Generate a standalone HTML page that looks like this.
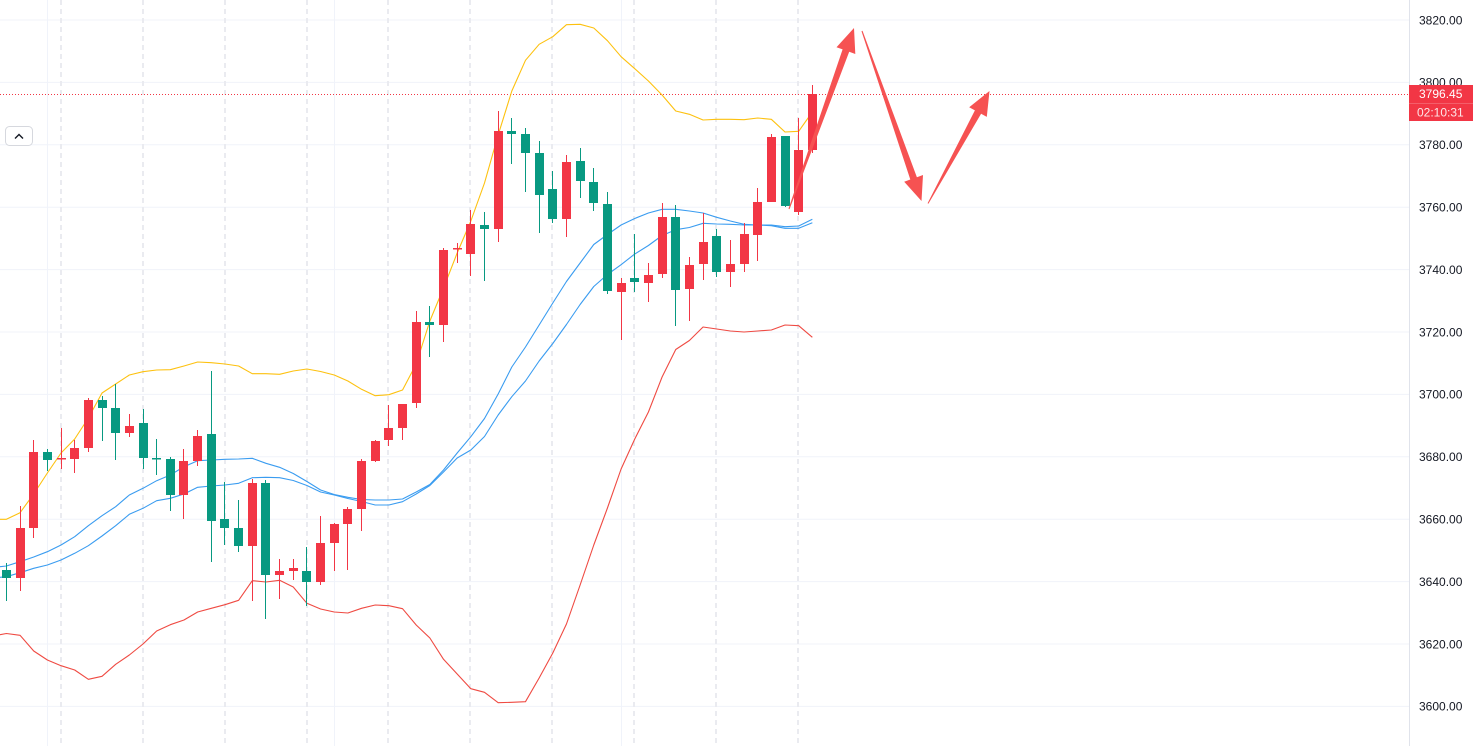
<!DOCTYPE html>
<html><head><meta charset="utf-8"><style>
html,body{margin:0;padding:0;background:#fff;}
svg{display:block;}
text{font-family:"Liberation Sans",sans-serif;font-size:12px;}
</style></head><body>
<svg width="1473" height="746" viewBox="0 0 1473 746" xmlns="http://www.w3.org/2000/svg">
<rect width="1473" height="746" fill="#ffffff"/>
<!-- horizontal grid -->
<g stroke="#f0f3fa" stroke-width="1">
<line x1="0" y1="20" x2="1409" y2="20"/>
<line x1="0" y1="82.4" x2="1409" y2="82.4"/>
<line x1="0" y1="144.8" x2="1409" y2="144.8"/>
<line x1="0" y1="207.2" x2="1409" y2="207.2"/>
<line x1="0" y1="269.6" x2="1409" y2="269.6"/>
<line x1="0" y1="332" x2="1409" y2="332"/>
<line x1="0" y1="394.4" x2="1409" y2="394.4"/>
<line x1="0" y1="456.8" x2="1409" y2="456.8"/>
<line x1="0" y1="519.2" x2="1409" y2="519.2"/>
<line x1="0" y1="581.6" x2="1409" y2="581.6"/>
<line x1="0" y1="644" x2="1409" y2="644"/>
<line x1="0" y1="706.4" x2="1409" y2="706.4"/>
<line x1="47.5" y1="0" x2="47.5" y2="746"/>
<line x1="334.5" y1="0" x2="334.5" y2="746"/>
<line x1="621.5" y1="0" x2="621.5" y2="746"/>
</g>
<!-- dashed verticals -->
<g stroke="#eaebf0" stroke-width="2" stroke-dasharray="5,4">
<line x1="61" y1="0" x2="61" y2="746"/>
<line x1="143" y1="0" x2="143" y2="746"/>
<line x1="225" y1="0" x2="225" y2="746"/>
<line x1="307" y1="0" x2="307" y2="746"/>
<line x1="388" y1="0" x2="388" y2="746"/>
<line x1="470" y1="0" x2="470" y2="746"/>
<line x1="552" y1="0" x2="552" y2="746"/>
<line x1="634" y1="0" x2="634" y2="746"/>
<line x1="716" y1="0" x2="716" y2="746"/>
<line x1="798" y1="0" x2="798" y2="746"/>
</g>
<!-- price line -->
<line x1="0" y1="94.5" x2="1409" y2="94.5" stroke="#f23645" stroke-width="1" stroke-dasharray="1,2"/>
<!-- bands -->
<g fill="none" stroke-width="1.1" stroke-linejoin="round">
<polyline stroke="#fdc10f" points="0,519.3 6.4,519.3 20.06,512.7 33.72,494 47.38,473 61.04,453 74.7,439 88.36,418 102.02,393 115.68,384 129.34,375 143,371.7 156.66,370 170.32,369.7 183.98,366 197.64,362 211.3,362.7 224.96,364 238.62,366 252.28,373.7 265.94,373.7 279.6,374.3 293.26,371 306.92,369 320.58,371.5 334.24,375 347.9,381 361.56,389.3 375.22,395.7 388.88,394.7 402.54,390 416.2,364 429.86,321 443.52,288 457.18,253 470.84,221 484.5,183 498.16,135 511.82,91 525.48,60.3 539.14,44.3 552.8,36.7 566.46,24.7 580.12,24.3 593.78,28 607.44,40.7 621.1,56.7 634.76,68.7 648.42,81 662.08,95 675.74,111 689.4,114.3 703.06,120 716.72,119.3 730.38,119.3 744.04,119.7 757.7,118 771.36,119.3 785.02,132 798.68,131.3 812.34,112"/>
<polyline stroke="#ef4a42" points="0,634.7 6.4,633.5 20.06,635.3 33.72,651 47.38,660 61.04,665.7 74.7,670 88.36,679.3 102.02,676.3 115.68,664.3 129.34,655 143,644 156.66,631 170.32,624.7 183.98,620 197.64,612 211.3,608.3 224.96,604.7 238.62,600.3 252.28,580.7 265.94,582 279.6,580.3 293.26,587 306.92,603.3 320.58,609 334.24,612 347.9,613 361.56,608.3 375.22,605 388.88,605.7 402.54,608.7 416.2,625 429.86,638 443.52,659.3 457.18,674 470.84,688.7 484.5,692.3 498.16,702.7 511.82,702.3 525.48,701.7 539.14,678 552.8,653 566.46,624 580.12,585 593.78,545 607.44,508 621.1,469 634.76,439 648.42,412 662.08,377 675.74,349.5 689.4,340.5 703.06,327 716.72,329 730.38,331 744.04,332 757.7,331 771.36,330 785.02,325 798.68,325.7 812.34,337.3"/>
<polyline stroke="#3a9cf0" points="0,566.7 6.4,566 20.06,561.7 33.72,557 47.38,551.7 61.04,545 74.7,536.7 88.36,525.7 102.02,515.7 115.68,506.7 129.34,495 143,488.3 156.66,480.7 170.32,475 183.98,466.7 197.64,460.7 211.3,460 224.96,459.3 238.62,459 252.28,458.3 265.94,463.3 279.6,467.3 293.26,473.5 306.92,481.5 320.58,490 334.24,494.5 347.9,497.3 361.56,499.5 375.22,500 388.88,500 402.54,499 416.2,492 429.86,484.5 443.52,470 457.18,453 470.84,436.7 484.5,418.5 498.16,394 511.82,367 525.48,347 539.14,325 552.8,303 566.46,281.5 580.12,263 593.78,244.5 607.44,234.5 621.1,225 634.76,218.5 648.42,213 662.08,209.3 675.74,209.3 689.4,211 703.06,213 716.72,217.3 730.38,221 744.04,224.3 757.7,225 771.36,225.7 785.02,228.3 798.68,228.3 812.34,222.7"/>
<polyline stroke="#3a9cf0" points="0,577.3 6.4,576.7 20.06,572.7 33.72,568.3 47.38,565 61.04,560 74.7,553.3 88.36,545.7 102.02,536 115.68,525.7 129.34,514.3 143,508.3 156.66,500.7 170.32,498.3 183.98,494 197.64,487.3 211.3,486 224.96,485 238.62,483.3 252.28,477.7 265.94,477.3 279.6,477.7 293.26,480.5 306.92,485.5 320.58,492 334.24,495 347.9,498.5 361.56,501.5 375.22,505 388.88,505 402.54,501.7 416.2,494 429.86,485.5 443.52,472 457.18,458 470.84,450 484.5,436.5 498.16,415 511.82,396.7 525.48,381 539.14,361 552.8,343.5 566.46,324.5 580.12,304.5 593.78,286.5 607.44,274.5 621.1,264.7 634.76,254 648.42,245.5 662.08,235.5 675.74,229.7 689.4,227.5 703.06,223.3 716.72,224 730.38,224.3 744.04,225 757.7,225 771.36,225 785.02,226.7 798.68,226 812.34,219.3"/>
</g>
<!-- green candles -->
<g fill="#089981" stroke="#089981" stroke-width="1">
<line x1="6.5" y1="563" x2="6.5" y2="601"/><rect x="2" y="570" width="9" height="8" stroke="none"/>
<line x1="47.5" y1="449" x2="47.5" y2="471"/><rect x="43" y="452" width="9" height="8" stroke="none"/>
<line x1="102.5" y1="396" x2="102.5" y2="441"/><rect x="98" y="400" width="9" height="8" stroke="none"/>
<line x1="115.5" y1="384" x2="115.5" y2="460"/><rect x="111" y="408" width="9" height="25" stroke="none"/>
<line x1="143.5" y1="409" x2="143.5" y2="469"/><rect x="139" y="423" width="9" height="35" stroke="none"/>
<line x1="156.5" y1="439" x2="156.5" y2="475"/><rect x="152" y="458" width="9" height="1.5" stroke="none"/>
<line x1="170.5" y1="457" x2="170.5" y2="511"/><rect x="166" y="459" width="9" height="36" stroke="none"/>
<line x1="211.5" y1="371" x2="211.5" y2="562"/><rect x="207" y="434" width="9" height="87" stroke="none"/>
<line x1="224.5" y1="482" x2="224.5" y2="545"/><rect x="220" y="519" width="9" height="9" stroke="none"/>
<line x1="238.5" y1="500" x2="238.5" y2="552"/><rect x="234" y="528" width="9" height="18" stroke="none"/>
<line x1="265.5" y1="480" x2="265.5" y2="619"/><rect x="261" y="483" width="9" height="92" stroke="none"/>
<line x1="306.5" y1="547" x2="306.5" y2="606"/><rect x="302" y="571" width="9" height="11" stroke="none"/>
<line x1="429.5" y1="306" x2="429.5" y2="357"/><rect x="425" y="322" width="9" height="3" stroke="none"/>
<line x1="484.5" y1="212" x2="484.5" y2="281"/><rect x="480" y="225" width="9" height="4" stroke="none"/>
<line x1="511.5" y1="118" x2="511.5" y2="164"/><rect x="507" y="131" width="9" height="3" stroke="none"/>
<line x1="525.5" y1="128" x2="525.5" y2="192"/><rect x="521" y="134" width="9" height="19" stroke="none"/>
<line x1="539.5" y1="141" x2="539.5" y2="233"/><rect x="535" y="153" width="9" height="42" stroke="none"/>
<line x1="552.5" y1="171" x2="552.5" y2="223"/><rect x="548" y="189" width="9" height="30" stroke="none"/>
<line x1="580.5" y1="148" x2="580.5" y2="198"/><rect x="576" y="161" width="9" height="20" stroke="none"/>
<line x1="593.5" y1="168" x2="593.5" y2="211"/><rect x="589" y="182" width="9" height="21" stroke="none"/>
<line x1="607.5" y1="192" x2="607.5" y2="294"/><rect x="603" y="204" width="9" height="87" stroke="none"/>
<line x1="634.5" y1="234" x2="634.5" y2="292"/><rect x="630" y="278" width="9" height="4" stroke="none"/>
<line x1="675.5" y1="205" x2="675.5" y2="326"/><rect x="671" y="217" width="9" height="73" stroke="none"/>
<line x1="716.5" y1="229" x2="716.5" y2="277"/><rect x="712" y="236" width="9" height="36" stroke="none"/>
<line x1="785.5" y1="136" x2="785.5" y2="207"/><rect x="781" y="136" width="9" height="70" stroke="none"/>
</g>
<!-- red candles -->
<g fill="#f23645" stroke="#f23645" stroke-width="1">
<line x1="20.5" y1="506" x2="20.5" y2="591"/><rect x="16" y="528" width="9" height="50" stroke="none"/>
<line x1="33.5" y1="440" x2="33.5" y2="538"/><rect x="29" y="452" width="9" height="76" stroke="none"/>
<line x1="61.5" y1="428" x2="61.5" y2="469"/><rect x="57" y="458" width="9" height="1.5" stroke="none"/>
<line x1="74.5" y1="440" x2="74.5" y2="473"/><rect x="70" y="448" width="9" height="11" stroke="none"/>
<line x1="88.5" y1="398" x2="88.5" y2="452"/><rect x="84" y="400" width="9" height="48" stroke="none"/>
<line x1="129.5" y1="414" x2="129.5" y2="437"/><rect x="125" y="426" width="9" height="7" stroke="none"/>
<line x1="183.5" y1="449" x2="183.5" y2="519"/><rect x="179" y="461" width="9" height="34" stroke="none"/>
<line x1="197.5" y1="430" x2="197.5" y2="466"/><rect x="193" y="436" width="9" height="25" stroke="none"/>
<line x1="252.5" y1="479" x2="252.5" y2="601"/><rect x="248" y="483" width="9" height="63" stroke="none"/>
<line x1="279.5" y1="559" x2="279.5" y2="599"/><rect x="275" y="571" width="9" height="4" stroke="none"/>
<line x1="293.5" y1="559" x2="293.5" y2="580"/><rect x="289" y="568" width="9" height="3" stroke="none"/>
<line x1="320.5" y1="516" x2="320.5" y2="585"/><rect x="316" y="543" width="9" height="39" stroke="none"/>
<line x1="334.5" y1="523" x2="334.5" y2="571"/><rect x="330" y="524" width="9" height="19" stroke="none"/>
<line x1="347.5" y1="507" x2="347.5" y2="570"/><rect x="343" y="509" width="9" height="15" stroke="none"/>
<line x1="361.5" y1="459" x2="361.5" y2="531"/><rect x="357" y="461" width="9" height="48" stroke="none"/>
<line x1="375.5" y1="440" x2="375.5" y2="462"/><rect x="371" y="441" width="9" height="20" stroke="none"/>
<line x1="388.5" y1="405" x2="388.5" y2="446"/><rect x="384" y="428" width="9" height="12" stroke="none"/>
<line x1="402.5" y1="404" x2="402.5" y2="440"/><rect x="398" y="404" width="9" height="24" stroke="none"/>
<line x1="416.5" y1="311" x2="416.5" y2="408"/><rect x="412" y="322" width="9" height="81" stroke="none"/>
<line x1="443.5" y1="248" x2="443.5" y2="342"/><rect x="439" y="250" width="9" height="75" stroke="none"/>
<line x1="457.5" y1="243" x2="457.5" y2="263"/><rect x="453" y="248" width="9" height="1.5" stroke="none"/>
<line x1="470.5" y1="210" x2="470.5" y2="276"/><rect x="466" y="224" width="9" height="30" stroke="none"/>
<line x1="498.5" y1="111" x2="498.5" y2="242"/><rect x="494" y="131" width="9" height="98" stroke="none"/>
<line x1="566.5" y1="155" x2="566.5" y2="237"/><rect x="562" y="162" width="9" height="57" stroke="none"/>
<line x1="621.5" y1="278" x2="621.5" y2="340"/><rect x="617" y="283" width="9" height="9" stroke="none"/>
<line x1="648.5" y1="263" x2="648.5" y2="302"/><rect x="644" y="275" width="9" height="8" stroke="none"/>
<line x1="662.5" y1="203" x2="662.5" y2="278"/><rect x="658" y="217" width="9" height="57" stroke="none"/>
<line x1="689.5" y1="257" x2="689.5" y2="321"/><rect x="685" y="265" width="9" height="24" stroke="none"/>
<line x1="703.5" y1="213" x2="703.5" y2="280"/><rect x="699" y="242" width="9" height="22" stroke="none"/>
<line x1="730.5" y1="240" x2="730.5" y2="287"/><rect x="726" y="264" width="9" height="8" stroke="none"/>
<line x1="744.5" y1="223" x2="744.5" y2="272"/><rect x="740" y="234" width="9" height="30" stroke="none"/>
<line x1="757.5" y1="188" x2="757.5" y2="261"/><rect x="753" y="202" width="9" height="33" stroke="none"/>
<line x1="771.5" y1="134" x2="771.5" y2="202"/><rect x="767" y="137" width="9" height="65" stroke="none"/>
<line x1="798.5" y1="118" x2="798.5" y2="215"/><rect x="794" y="150" width="9" height="62" stroke="none"/>
<line x1="812.5" y1="85" x2="812.5" y2="153"/><rect x="808" y="94" width="9" height="56" stroke="none"/>
</g>
<!-- arrows -->
<g fill="#f65252">
<polygon points="788.5,208.8 842.6,49.4 836.5,47.2 854,28 855.3,54 849.2,51.8 789.5,209.2"/>
<polygon points="862.5,30.8 916.9,177.2 923,175 921.5,201 904.2,181.7 910.3,179.5 861.5,31.2"/>
<polygon points="927.6,203.3 974.9,110.4 969.2,107.3 989.5,91 986.8,116.9 981.1,113.7 928.4,203.7"/>
</g>
<!-- collapse button -->
<rect x="5.5" y="126.5" width="27" height="19" rx="4" fill="#fff" stroke="#d6d8de" stroke-width="1"/>
<polyline points="15,138.5 19,134.5 23,138.5" fill="none" stroke="#131722" stroke-width="1.4"/>
<!-- price axis -->
<rect x="1409" y="0" width="64" height="746" fill="#ffffff"/>
<line x1="1409.5" y1="0" x2="1409.5" y2="746" stroke="#e0e3eb" stroke-width="1"/>
<g fill="#131722">
<text x="1419" y="24.3">3820.00</text>
<text x="1419" y="86.7">3800.00</text>
<text x="1419" y="149.1">3780.00</text>
<text x="1419" y="211.5">3760.00</text>
<text x="1419" y="273.9">3740.00</text>
<text x="1419" y="336.3">3720.00</text>
<text x="1419" y="398.7">3700.00</text>
<text x="1419" y="461.1">3680.00</text>
<text x="1419" y="523.5">3660.00</text>
<text x="1419" y="585.9">3640.00</text>
<text x="1419" y="648.3">3620.00</text>
<text x="1419" y="710.7">3600.00</text>
</g>
<rect x="1409" y="85" width="64" height="36" fill="#f23645"/>
<line x1="1409" y1="103.5" x2="1473" y2="103.5" stroke="#ffffff" stroke-opacity="0.2" stroke-width="1"/>
<text x="1419" y="98" fill="#ffffff">3796.45</text>
<text x="1417" y="116.5" fill="#ffffff" fill-opacity="0.88">02:10:31</text>
</svg>
</body></html>
